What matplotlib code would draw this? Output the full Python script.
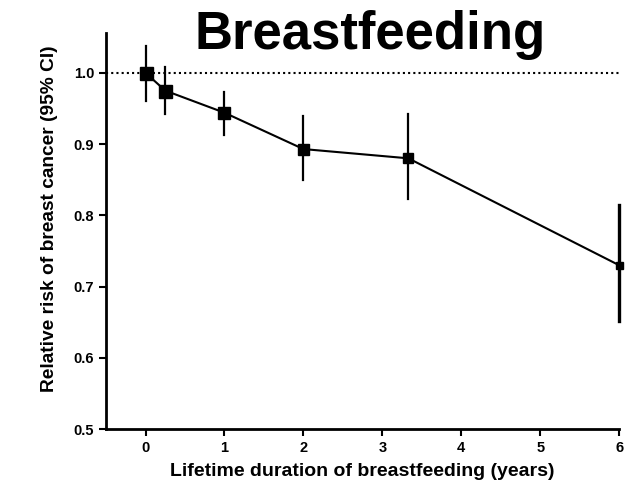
import matplotlib
matplotlib.use("Agg")
import matplotlib.pyplot as plt

# lifetime duration of breastfeeding (years) vs relative risk
years = [0, 0.25, 1, 2, 3.33, 6]
rr = [1.0, 0.975, 0.944, 0.893, 0.880, 0.730]
ci_low = [0.961, 0.942, 0.913, 0.850, 0.823, 0.652]
ci_high = [1.037, 1.008, 0.973, 0.940, 0.942, 0.815]
marker_px = [13, 13, 12, 11, 10, 7]
xticks = [0, 1, 2, 3, 4, 5, 6]
yticks = [0.5, 0.6, 0.7, 0.8, 0.9, 1.0]

plt.rcParams["font.family"] = ["Liberation Sans", "DejaVu Sans"]
plt.rcParams["font.weight"] = "bold"

fig = plt.figure(figsize=(6.35, 4.91), dpi=100)
ax = fig.add_axes([0.167, 0.126, 0.808, 0.807])

ax.axhline(1.0, color="black", lw=1.5, ls=(0, (1, 1.5)), zorder=1)
ax.plot(years, rr, color="black", lw=1.5, zorder=2)
for i, (x, y) in enumerate(zip(years, rr)):
    lw = 2.4 if i == len(years) - 1 else 1.6
    ax.plot([x, x], [ci_low[i], ci_high[i]], color="black", lw=lw,
            zorder=3, clip_on=False)
    ax.plot(x, y, marker="s", color="black", ms=marker_px[i] * 0.72,
            zorder=4, clip_on=False)

ax.set_xlim(-0.5, 6)
ax.set_ylim(0.5, 1.056)
ax.set_xticks(xticks)
ax.set_yticks(yticks)
ax.set_yticklabels([f"{v:.1f}" for v in yticks])
ax.tick_params(direction="out", length=5, width=1.5, labelsize=10.5)
for s in ("top", "right"):
    ax.spines[s].set_visible(False)
for s in ("left", "bottom"):
    ax.spines[s].set_linewidth(2)

ax.set_xlabel("Lifetime duration of breastfeeding (years)", fontsize=14,
              fontweight="bold")
ax.xaxis.set_label_coords(0.5, -0.085)
ax.set_ylabel("Relative risk of breast cancer (95% CI)", fontsize=13.8,
              fontweight="bold")
ax.yaxis.set_label_coords(-0.093, 0.53)
fig.text(0.583, 0.9, "Breastfeeding", fontsize=38, fontweight="bold",
         ha="center", va="baseline")

fig.savefig("out.png", dpi=100)
